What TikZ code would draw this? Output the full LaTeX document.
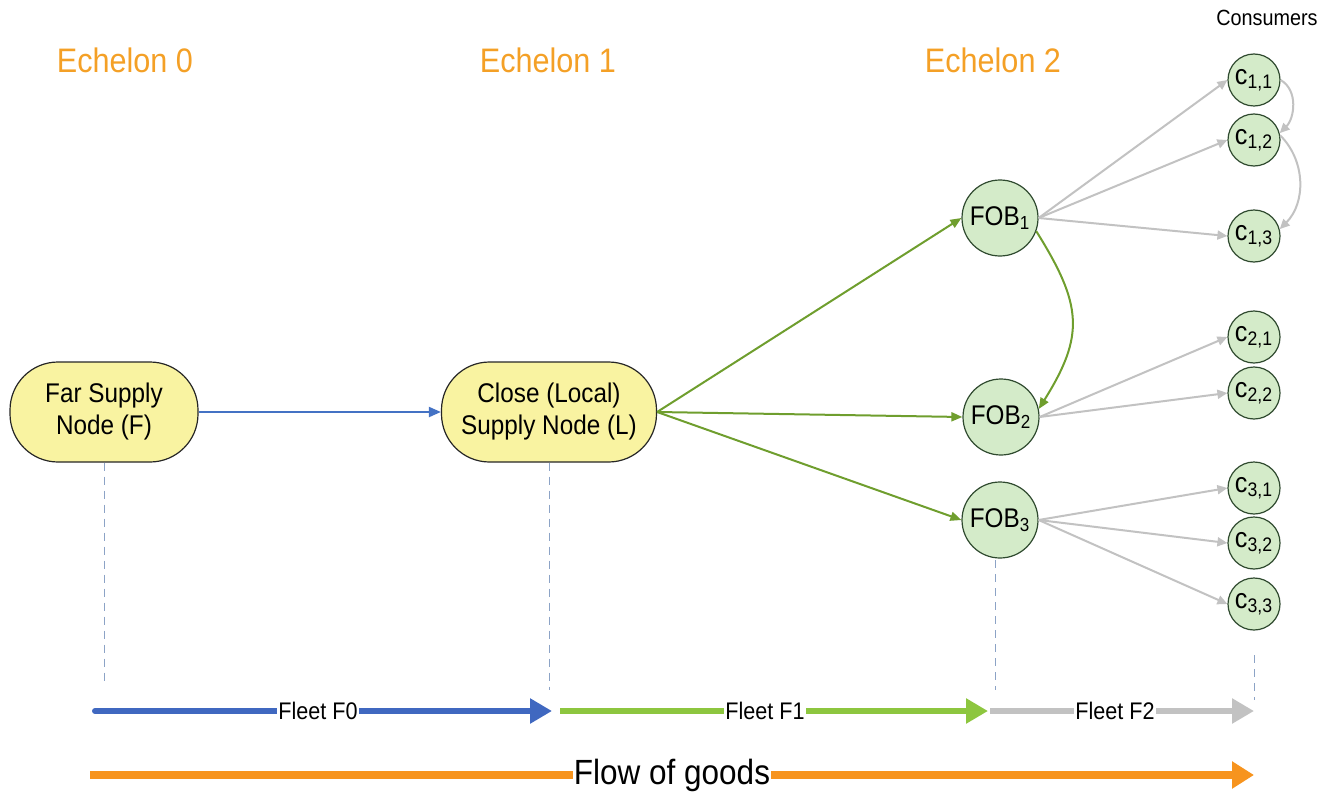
\documentclass[tikz,border=0pt]{standalone}
\usepackage{fontspec}
\setmainfont[FakeStretch=0.9]{Liberation Sans}
\usetikzlibrary{arrows.meta}
\definecolor{echelon}{HTML}{F4A026}
\definecolor{supfill}{HTML}{F9F3A1}
\definecolor{circfill}{HTML}{D4EBC9}
\definecolor{circline}{HTML}{2F4A2F}
\definecolor{arrgreen}{HTML}{6F9E2E}
\definecolor{fleetgreen}{HTML}{8DC63F}
\definecolor{fleetblue}{HTML}{4068C0}
\definecolor{thinblue}{HTML}{4472C4}
\definecolor{arrgray}{HTML}{C2C2C2}
\definecolor{floworange}{HTML}{F7941E}
\definecolor{guidecol}{HTML}{8CA3C6}
\begin{document}
\begin{tikzpicture}[x=0.5pt,y=-0.5pt,
  echlabel/.style={text=echelon, font=\fontsize{17}{20}\selectfont},
  supply/.style={draw=black!85, fill=supfill, line width=0.6pt, rounded corners=24pt,
    align=center, inner sep=0pt, minimum height=50pt,
    font=\fontsize{13.5}{16}\selectfont},
  fob/.style={circle, draw=circline, fill=circfill, line width=0.6pt, minimum size=38pt,
    inner sep=0pt, font=\fontsize{13.5}{16}\selectfont},
  cons/.style={circle, draw=circline, fill=circfill, line width=0.6pt, minimum size=26pt,
    inner sep=0pt, font=\fontsize{14}{16}\selectfont},
  bluearrow/.style={draw=thinblue, line width=1pt, -{Triangle[length=6pt,width=5pt]}},
  greenarrow/.style={draw=arrgreen, line width=1pt, -{Triangle[length=5.5pt,width=4.5pt]}},
  grayarrow/.style={draw=arrgray, line width=1pt, -{Triangle[length=5pt,width=4.5pt]}},
  guide/.style={draw=guidecol, line width=0.5pt, dash pattern=on 4pt off 3pt},
  fleet/.style={line width=3pt, -{Triangle[length=11pt,width=12pt]}},
  fleetlabel/.style={fill=white, inner sep=0.5pt, font=\fontsize{12}{14}\selectfont},
  flowlabel/.style={fill=white, inner sep=0.5pt, font=\fontsize{17.5}{20}\selectfont}
]
\useasboundingbox (0,0) rectangle (1322,792);

% headings
\node[echlabel] (e0) at (125,60) {Echelon 0};
\node[echlabel] (e1) at (548,60) {Echelon 1};
\node[echlabel] (e2) at (993,60) {Echelon 2};
\node[font=\fontsize{11}{13}\selectfont] (consumers) at (1267,18) {Consumers};

% supply nodes
\node[supply, minimum width=94pt] (F) at (104,412) {Far Supply\\Node (F)};
\node[supply, minimum width=107.5pt] (L) at (549,412) {Close (Local)\\Supply Node (L)};

% FOBs
\node[fob] (fob1) at (1000,218) {FOB\textsubscript{1}};
\node[fob] (fob2) at (1001,417) {FOB\textsubscript{2}};
\node[fob] (fob3) at (1000,520) {FOB\textsubscript{3}};

% consumers
\node[cons] (c11) at (1254,80) {c\textsubscript{1,1}};
\node[cons] (c12) at (1254,140) {c\textsubscript{1,2}};
\node[cons] (c13) at (1254,236) {c\textsubscript{1,3}};
\node[cons] (c21) at (1254,337) {c\textsubscript{2,1}};
\node[cons] (c22) at (1254,393) {c\textsubscript{2,2}};
\node[cons] (c31) at (1254,488) {c\textsubscript{3,1}};
\node[cons] (c32) at (1254,543) {c\textsubscript{3,2}};
\node[cons] (c33) at (1254,604) {c\textsubscript{3,3}};

% connectors
\draw[bluearrow] (F.east) -- (L.west);
\draw[greenarrow] (L.east) -- (fob1.west);
\draw[greenarrow] (L.east) -- (fob2.west);
\draw[greenarrow] (L.east) -- (fob3.west);
\draw[greenarrow] (fob1.-20) to[out=-58,in=58,looseness=1.25] (fob2.12);

\draw[grayarrow] (fob1.east) -- (c11.west);
\draw[grayarrow] (fob1.east) -- (c12.west);
\draw[grayarrow] (fob1.east) -- (c13.west);
\draw[grayarrow] (fob2.east) -- (c21.west);
\draw[grayarrow] (fob2.east) -- (c22.west);
\draw[grayarrow] (fob3.east) -- (c31.west);
\draw[grayarrow] (fob3.east) -- (c32.west);
\draw[grayarrow] (fob3.east) -- (c33.west);
\draw[grayarrow] (c11.east) to[out=-30,in=45] (c12.15);
\draw[grayarrow] (c12.10) to[out=-45,in=45] (c13.15);

% guides and fleet arrows
\coordinate (g0) at (104,685);
\coordinate (g1) at (549,690);
\coordinate (g2top) at (995,560);
\coordinate (g2) at (995,690);
\coordinate (g3top) at (1254,655);
\coordinate (g3) at (1254,700);
\draw[guide] (F.south) -- (g0);
\draw[guide] (L.south) -- (g1);
\draw[guide] (g2top) -- (g2);
\draw[guide] (g3top) -- (g3);

\coordinate (f0s) at (95,711);
\coordinate (f0e) at (552,711);
\coordinate (f1s) at (560,711);
\coordinate (f1e) at (988,711);
\coordinate (f2s) at (990,711);
\coordinate (f2e) at (1254,711);
\draw[fleet, draw=fleetblue, fill=fleetblue, line cap=round] (f0s) -- (f0e);
\draw[fleet, draw=fleetgreen, fill=fleetgreen] (f1s) -- (f1e);
\draw[fleet, draw=arrgray, fill=arrgray] (f2s) -- (f2e);
\node[fleetlabel] (lf0) at (318,711) {Fleet F0};
\node[fleetlabel] (lf1) at (765,711) {Fleet F1};
\node[fleetlabel] (lf2) at (1115,711) {Fleet F2};

\coordinate (fls) at (90,775);
\coordinate (fle) at (1254,775);
\draw[draw=floworange, line width=4pt, -{Triangle[length=11pt,width=13pt]}] (fls) -- (fle);
\node[flowlabel] (flow) at (672,775) {Flow of goods};
\end{tikzpicture}
\end{document}
